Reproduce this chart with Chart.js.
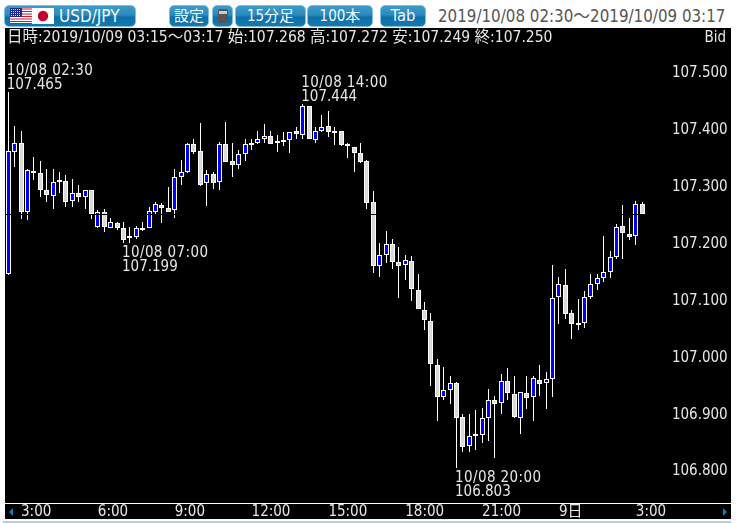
<!DOCTYPE html>
<html lang="ja">
<head>
<meta charset="utf-8">
<title>USD/JPY</title>
<script src="https://cdn.jsdelivr.net/npm/chart.js@4"></script>
<style>
  html, body { margin: 0; padding: 0; background: #fff; }
  body { width: 736px; height: 523px; position: relative; overflow: hidden;
         font-family: "DejaVu Sans Condensed", "Noto Sans CJK JP", sans-serif; }
  .btn { position: absolute; top: 5px; height: 22px; box-sizing: border-box; border-radius: 5px;
         border: 1px solid #7cc0e0; color: #f2f8fb; font-size: 15px; line-height: 20px; text-align: center;
         background: linear-gradient(#3d9ac8 0%, #2b8bbd 45%, #0f70a8 55%, #1478ae 100%); }
  #panel { position: absolute; left: 5px; top: 28px; width: 726px; height: 491px; background: #000; }
  #chart { position: absolute; left: 0; top: 0; }
  #info { position: absolute; left: 7px; top: 29px; height: 16px; line-height: 16px; font-size: 15.5px; color: #e6e6e6; white-space: nowrap; }
  #bid { position: absolute; right: 10px; top: 29px; height: 16px; line-height: 16px; font-size: 15px; color: #e6e6e6; }
  #range { position: absolute; left: 438px; top: 5px; line-height: 22px; font-size: 16.8px; color: #555; white-space: nowrap; }
  #footer { position: absolute; left: 3px; top: 521px; width: 728px; height: 2px; background: #b4d0dc; }
  .arrow { position: absolute; top: 508px; width: 0; height: 0; border-top: 4px solid transparent; border-bottom: 4px solid transparent; }
</style>
</head>
<body>
<div class="btn" style="left:4px;width:132px;text-align:left;padding-left:54px;font-size:17px;">USD/JPY
  <svg style="position:absolute;left:5px;top:2px" width="44" height="16" viewBox="0 0 44 16">
    <rect width="22" height="16" fill="#fff"/>
    <path d="M0 1h22M0 3.5h22M0 6h22M0 8.5h22M0 11h22M0 13.5h22M0 15.5h22" stroke="#d8142c" stroke-width="1.2"/>
    <rect width="12" height="9" fill="#1a2a8c"/>
    <path d="M1 1.5h10M1 3.5h10M1 5.5h10M1 7.5h10" stroke="#cfd4f0" stroke-width="1" stroke-dasharray="1 1"/>
    <rect x="22" width="22" height="16" fill="#fff"/>
    <circle cx="33" cy="8" r="5.2" fill="#c4002f"/>
  </svg>
</div>
<div class="btn" style="left:169px;width:40px;">設定</div>
<div class="btn" style="left:212px;width:21px;">
  <svg style="position:absolute;left:5px;top:3px" width="10" height="14"><rect width="10" height="14" rx="2" fill="#555"/><rect x="1" y="2" width="8" height="3" fill="#ccc"/></svg>
</div>
<div class="btn" style="left:235px;width:71px;">15分足</div>
<div class="btn" style="left:307px;width:66px;">100本</div>
<div class="btn" style="left:380px;width:46px;font-size:16.5px;">Tab</div>
<div id="range">2019/10/08 02:30～2019/10/09 03:17</div>

<div id="panel"><canvas id="chart" width="726" height="491"></canvas></div>
<div id="info">日時:2019/10/09 03:15～03:17 始:107.268 高:107.272 安:107.249 終:107.250</div>
<div id="bid">Bid</div>
<div class="arrow" style="left:9px;border-right:4px solid #0b7fc0;"></div>
<div class="arrow" style="left:723px;border-left:4px solid #0b7fc0;"></div>
<div id="footer"></div>

<script>
const FONT = '"DejaVu Sans Condensed", "Noto Sans CJK JP", sans-serif';
const TEXT_COLOR = '#e6e6e6';

const timeLabels = [
  '02:30','02:45','03:00','03:15','03:30','03:45','04:00','04:15','04:30','04:45',
  '05:00','05:15','05:30','05:45','06:00','06:15','06:30','06:45','07:00','07:15',
  '07:30','07:45','08:00','08:15','08:30','08:45','09:00','09:15','09:30','09:45',
  '10:00','10:15','10:30','10:45','11:00','11:15','11:30','11:45','12:00','12:15',
  '12:30','12:45','13:00','13:15','13:30','13:45','14:00','14:15','14:30','14:45',
  '15:00','15:15','15:30','15:45','16:00','16:15','16:30','16:45','17:00','17:15',
  '17:30','17:45','18:00','18:15','18:30','18:45','19:00','19:15','19:30','19:45',
  '20:00','20:15','20:30','20:45','21:00','21:15','21:30','21:45','22:00','22:15',
  '22:30','22:45','23:00','23:15','23:30','23:45','00:00','00:15','00:30','00:45',
  '01:00','01:15','01:30','01:45','02:00','02:15','02:30','02:45','03:00','03:15',
];

const opens = [
  107.145,107.360,107.376,107.254,107.326,107.322,107.292,107.282,107.306,107.308,
  107.274,107.287,107.280,107.292,107.227,107.253,107.226,107.234,107.225,107.208,
  107.210,107.225,107.226,107.254,107.266,107.260,107.257,107.315,107.325,107.373,
  107.361,107.304,107.321,107.307,107.373,107.343,107.337,107.355,107.375,107.375,
  107.383,107.387,107.375,107.380,107.380,107.396,107.390,107.440,107.380,107.396,
  107.405,107.397,107.397,107.373,107.368,107.357,107.343,107.271,107.158,107.178,
  107.197,107.165,107.160,107.167,107.116,107.081,107.062,106.984,106.928,106.940,
  106.953,106.893,106.842,106.863,106.861,106.891,106.924,106.917,106.956,106.933,
  106.891,106.936,106.928,106.958,106.953,106.960,107.104,107.125,107.076,107.058,
  107.058,107.104,107.128,107.137,107.148,107.174,107.229,107.215,107.211,107.268,
];
const highs = [
  107.465,107.405,107.396,107.329,107.350,107.343,107.329,107.329,107.325,107.319,
  107.311,107.302,107.292,107.292,107.258,107.259,107.243,107.236,107.236,107.227,
  107.230,107.236,107.263,107.271,107.269,107.297,107.329,107.346,107.375,107.382,
  107.410,107.328,107.324,107.377,107.412,107.375,107.362,107.382,107.383,107.396,
  107.408,107.397,107.389,107.394,107.394,107.403,107.444,107.440,107.403,107.424,
  107.431,107.404,107.397,107.375,107.368,107.375,107.345,107.290,107.199,107.220,
  107.206,107.192,107.179,107.176,107.144,107.095,107.076,106.995,106.982,106.965,
  106.954,106.898,106.898,106.905,106.909,106.942,106.930,106.968,106.979,106.965,
  106.938,106.965,106.965,106.984,106.972,107.160,107.140,107.153,107.081,107.100,
  107.114,107.144,107.144,107.211,107.186,107.232,107.266,107.243,107.273,107.272,
];
const lows = [
  107.143,107.333,107.241,107.240,107.310,107.281,107.272,107.259,107.288,107.262,
  107.262,107.272,107.259,107.241,107.226,107.219,107.226,107.223,107.199,107.200,
  107.207,107.221,107.226,107.250,107.234,107.253,107.243,107.302,107.322,107.355,
  107.300,107.264,107.295,107.292,107.342,107.316,107.329,107.344,107.362,107.373,
  107.376,107.373,107.360,107.369,107.357,107.382,107.383,107.382,107.375,107.394,
  107.385,107.371,107.370,107.348,107.324,107.340,107.259,107.146,107.139,107.164,
  107.153,107.102,107.134,107.098,107.083,107.047,106.948,106.887,106.924,106.916,
  106.803,106.831,106.831,106.836,106.847,106.851,106.822,106.898,106.924,106.891,
  106.863,106.907,106.886,106.931,106.907,106.928,107.056,107.065,107.030,107.047,
  107.049,107.100,107.116,107.130,107.137,107.172,107.172,107.204,107.195,107.249,
];
const closes = [
  107.361,107.375,107.253,107.327,107.323,107.293,107.284,107.306,107.310,107.272,
  107.287,107.281,107.292,107.251,107.253,107.228,107.236,107.226,107.204,107.211,
  107.225,107.224,107.255,107.267,107.260,107.254,107.315,107.324,107.373,107.360,
  107.302,107.320,107.305,107.373,107.342,107.337,107.355,107.373,107.374,107.383,
  107.387,107.374,107.378,107.378,107.394,107.391,107.440,107.382,107.396,107.403,
  107.394,107.396,107.371,107.371,107.357,107.342,107.270,107.158,107.178,107.197,
  107.165,107.158,107.169,107.118,107.084,107.063,106.986,106.928,106.940,106.953,
  106.891,106.840,106.859,106.861,106.891,106.924,106.916,106.956,106.935,106.893,
  106.938,106.926,106.961,106.952,106.960,107.102,107.127,107.074,107.056,107.056,
  107.104,107.128,107.137,107.148,107.174,107.227,107.216,107.209,107.267,107.250,
];

const yTicks = [107.5, 107.4, 107.3, 107.2, 107.1, 107.0, 106.9, 106.8];
const xTickNames = { '03:00': '3:00', '06:00': '6:00', '09:00': '9:00', '12:00': '12:00', '15:00': '15:00', '18:00': '18:00', '21:00': '21:00', '00:00': '9日' };

// high/low call-outs on the candles
const highNotes = [0, 46];
const lowNotes = [18, 70];

const UP_COLOR = '#0000ff';
const DOWN_COLOR = '#d9d9d9';

// sharp candles: put every bar on whole pixels, like the original
const snapBars = {
  id: 'snapBars',
  afterDatasetsUpdate(chart) {
    chart.data.datasets.forEach((ds, i) => {
      chart.getDatasetMeta(i).data.forEach(el => {
        el.x = Math.floor(el.x) + 0.5;
        el.y = Math.round(el.y);
        el.base = Math.round(el.base);
        if (el.base - el.y < 1) el.base = el.y + 1;
        if (i === 1 && el.base - el.y < 2) el.base = el.y + 2;
      });
    });
  },
};

const overlays = {
  id: 'overlays',
  afterDatasetsDraw(chart) {
    const { ctx, chartArea, scales } = chart;
    // last close line, black over the candles
    const yLast = Math.floor(scales.y.getPixelForValue(closes[closes.length - 1])) + 0.5;
    ctx.save();
    ctx.strokeStyle = '#000';
    ctx.lineWidth = 1;
    ctx.beginPath();
    ctx.moveTo(chartArea.left, yLast);
    ctx.lineTo(chartArea.right, yLast);
    ctx.stroke();

    ctx.fillStyle = TEXT_COLOR;
    ctx.font = '15px ' + FONT;
    ctx.textAlign = 'left';
    ctx.textBaseline = 'middle';
    highNotes.forEach(i => {
      const x = scales.x.getPixelForValue(i) - 1.5;
      const y = scales.y.getPixelForValue(highs[i]);
      ctx.letterSpacing = '0.4px';
      ctx.fillText('10/08 ' + timeLabels[i], x, y - 20.5);
      ctx.letterSpacing = '0px';
      ctx.fillText(highs[i].toFixed(3), x, y - 6.5);
    });
    lowNotes.forEach(i => {
      const x = scales.x.getPixelForValue(i) - 1.5;
      const y = scales.y.getPixelForValue(lows[i]);
      ctx.letterSpacing = '0.4px';
      ctx.fillText('10/08 ' + timeLabels[i], x, y + 10);
      ctx.letterSpacing = '0px';
      ctx.fillText(lows[i].toFixed(3), x, y + 23.5);
    });

    // rule above the time axis runs the full panel width
    ctx.strokeStyle = '#fff';
    ctx.beginPath();
    ctx.moveTo(0, chartArea.bottom + 0.5);
    ctx.lineTo(chart.width, chartArea.bottom + 0.5);
    ctx.stroke();
    ctx.restore();
  },
};

new Chart(document.getElementById('chart'), {
  type: 'bar',
  data: {
    labels: timeLabels,
    datasets: [
      {
        label: 'wick',
        data: lows.map((l, i) => [l, highs[i]]),
        backgroundColor: '#fff',
        barThickness: 1,
        inflateAmount: 0,
        grouped: false,
        order: 2,
      },
      {
        label: 'body',
        data: opens.map((o, i) => [o, closes[i]]),
        backgroundColor: closes.map((c, i) => c > opens[i] ? UP_COLOR : DOWN_COLOR),
        borderColor: '#fff',
        borderWidth: 1,
        borderSkipped: false,
        barThickness: 5,
        inflateAmount: 0,
        grouped: false,
        order: 1,
      },
    ],
  },
  options: {
    responsive: false,
    animation: false,
    layout: { padding: 0 },
    plugins: { legend: { display: false }, tooltip: { enabled: false } },
    scales: {
      x: {
        grid: { display: false, drawTicks: false },
        border: { display: false },
        afterFit: s => { s.height = 16; s.paddingLeft = 0; s.paddingRight = 0; },
        ticks: {
          autoSkip: false,
          maxRotation: 0,
          align: 'start',
          padding: 0,
          color: TEXT_COLOR,
          font: { size: 15, family: FONT },
          callback: (value, index) => xTickNames[timeLabels[index]] || '',
        },
      },
      y: {
        position: 'right',
        min: 106.742,
        max: 107.5774,
        grid: { display: false, drawTicks: false },
        border: { display: false },
        afterFit: s => { s.width = 85.6; s.paddingTop = 0; s.paddingBottom = 0; },
        afterBuildTicks: s => { s.ticks = yTicks.map(v => ({ value: v })); },
        ticks: {
          padding: 26.5,
          labelOffset: 1.5,
          color: TEXT_COLOR,
          font: { size: 15, family: FONT },
          callback: v => v.toFixed(3),
        },
      },
    },
  },
  plugins: [snapBars, overlays],
});
</script>
</body>
</html>
